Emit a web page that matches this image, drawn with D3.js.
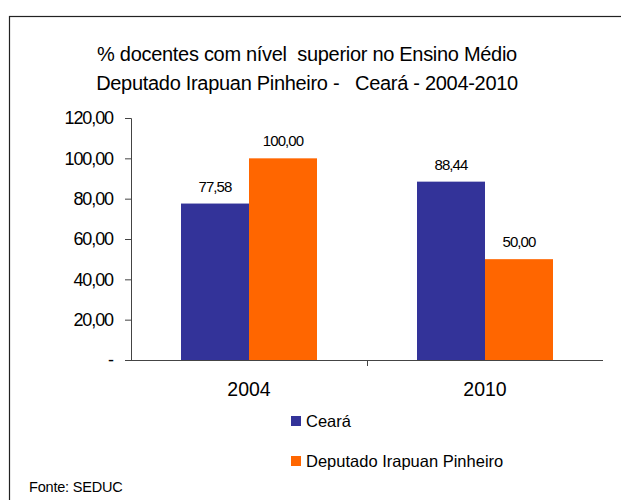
<!DOCTYPE html>
<html><head><meta charset="utf-8">
<script src="https://cdn.jsdelivr.net/npm/d3@7"></script>
<style>body{margin:0;background:#fff}svg{display:block;font-family:"Liberation Sans",Arial,sans-serif}</style>
</head><body><svg id="c" width="621" height="500"></svg>
<script>
const categories = ["2004", "2010"];
const seriesNames = ["Ceará", "Deputado Irapuan Pinheiro"];
const cearaValues = [77.58, 88.44];
const deputadoValues = [100.00, 50.00];
const yTicks = [0, 20, 40, 60, 80, 100, 120];
const titleLines = ["% docentes com nível  superior no Ensino Médio", "Deputado Irapuan Pinheiro -   Ceará - 2004-2010"];
const colors = ["#333399", "#FF6600"];

const svg = d3.select("#c");
svg.append("rect").attr("x", 9.5).attr("y", 16.5).attr("width", 700).attr("height", 600)
  .attr("fill", "none").attr("stroke", "#222").attr("stroke-width", 1.2);

titleLines.forEach((t, i) => svg.append("text").attr("x", 307).attr("y", 61 + i * 29)
  .attr("text-anchor", "middle").attr("font-size", 20).attr("letter-spacing", -0.3).attr("fill", "#000")
  .style("white-space", "pre").text(t));

const x0 = d3.scaleBand().domain(categories).range([131, 603]).paddingInner(0).paddingOuter(0);
const y = d3.scaleLinear().domain([0, 120]).range([360, 118]);
const groupW = 136;
const x1 = d3.scaleBand().domain(seriesNames).range([0, groupW]);

const fmt = v => v === 0 ? "-" : d3.format(".2f")(v).replace(".", ",");
const yAxis = d3.axisLeft(y).tickValues(yTicks).tickFormat(fmt).tickSize(6).tickPadding(12);
const gy = svg.append("g").attr("transform", "translate(131,0)").call(yAxis);
gy.select(".domain").attr("stroke", "#444").attr("d", "M-6,118.5H0.5V360.5");
gy.selectAll(".tick line").attr("stroke", "#444");
gy.selectAll("text").attr("font-size", 18).attr("letter-spacing", -1.1).attr("fill", "#000")
  .attr("font-family", "Liberation Sans, Arial, sans-serif");

svg.append("line").attr("x1", 131).attr("x2", 603).attr("y1", 360.5).attr("y2", 360.5).attr("stroke", "#444");
svg.append("line").attr("x1", 367.5).attr("x2", 367.5).attr("y1", 360).attr("y2", 366).attr("stroke", "#444");

const data = categories.map((c, i) => ({cat: c, vals: [cearaValues[i], deputadoValues[i]]}));
const g = svg.selectAll(".grp").data(data).enter().append("g")
  .attr("transform", d => `translate(${x0(d.cat) + (x0.bandwidth() - groupW) / 2},0)`);
g.selectAll("rect").data(d => d.vals.map((v, j) => ({v, s: seriesNames[j], j}))).enter().append("rect")
  .attr("x", d => x1(d.s)).attr("width", x1.bandwidth())
  .attr("y", d => y(d.v)).attr("height", d => y(0) - y(d.v)).attr("fill", d => colors[d.j]);
g.selectAll("text").data(d => d.vals.map((v, j) => ({v, s: seriesNames[j]}))).enter().append("text")
  .attr("x", d => x1(d.s) + x1.bandwidth() / 2).attr("y", d => y(d.v) - 12)
  .attr("text-anchor", "middle").attr("font-size", 15).attr("letter-spacing", -0.9).attr("fill", "#000").text(d => fmt(d.v));

svg.selectAll(".cat").data(categories).enter().append("text")
  .attr("x", d => x0(d) + x0.bandwidth() / 2).attr("y", 396).attr("text-anchor", "middle")
  .attr("font-size", 19.5).attr("fill", "#000").text(d => d);

seriesNames.forEach((s, i) => {
  const yy = 416 + i * 40;
  svg.append("rect").attr("x", 291).attr("y", yy).attr("width", 10).attr("height", 10).attr("fill", colors[i]);
  svg.append("text").attr("x", 306).attr("y", yy + 11).attr("font-size", 16.5).attr("letter-spacing", 0).attr("fill", "#000").text(s);
});

svg.append("text").attr("x", 29).attr("y", 492).attr("font-size", 14.5).attr("letter-spacing", -0.2).attr("fill", "#000").text("Fonte: SEDUC");
</script></body></html>
